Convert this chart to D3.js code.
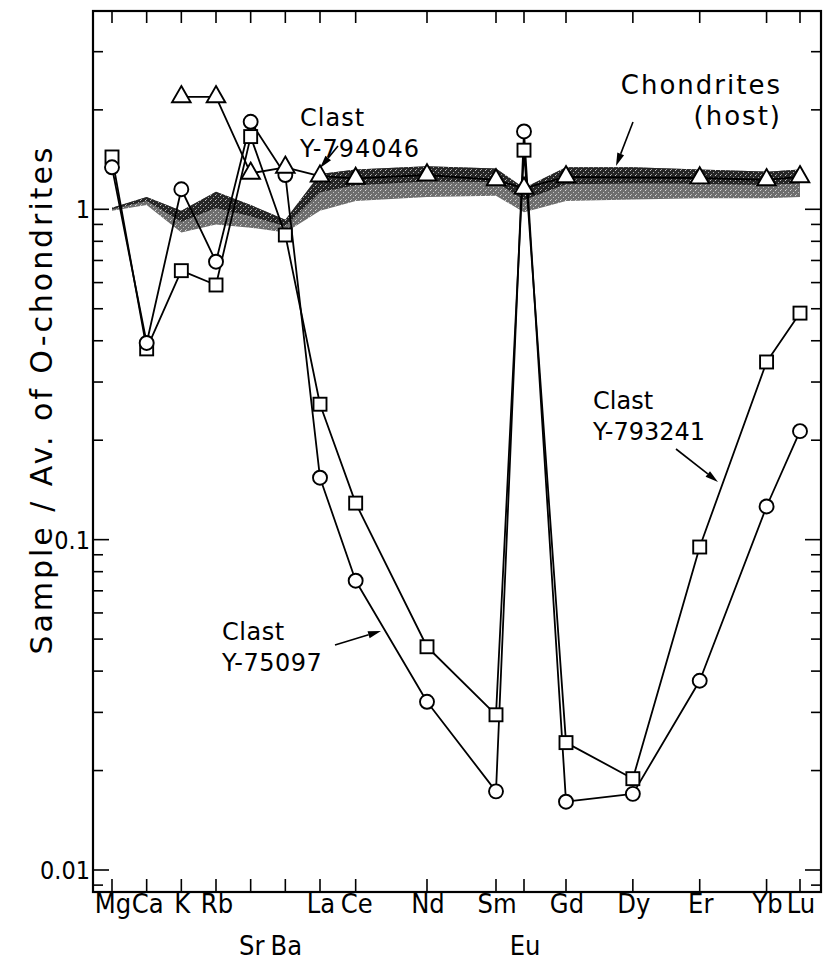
<!DOCTYPE html>
<html>
<head>
<meta charset="utf-8">
<script src="https://cdn.jsdelivr.net/npm/d3@7"></script>
<style>
  html, body { margin: 0; padding: 0; background: #fff; }
  svg { display: block; }
</style>
</head>
<body>
<div id="chart"></div>
<script>
// Axis slots: non-REE elements first, then the REE by atomic number (gaps kept for Pr, Pm, Tb, Ho, Tm)
const axisSlots = ["Mg","Ca","K","Rb","Sr","Ba","La","Ce","Pr","Nd","Pm","Sm","Eu","Gd","Tb","Dy","Ho","Er","Tm","Yb","Lu"];
// Measured elements, in plotting order
const elements = ["Mg","Ca","K","Rb","Sr","Ba","La","Ce","Nd","Sm","Eu","Gd","Dy","Er","Yb","Lu"];
// Labels set on the second line under the axis
const secondRowLabels = ["Sr","Ba","Eu"];

// Sample / average of ordinary chondrites
const clastY793241 = [1.44, 0.378, 0.652, 0.590, 1.66, 0.836, 0.257, 0.129, 0.0474, 0.0295, 1.51, 0.0243, 0.0189, 0.095, 0.345, 0.485];
const clastY75097  = [1.34, 0.394, 1.15, 0.694, 1.84, 1.27, 0.154, 0.0751, 0.0323, 0.0173, 1.72, 0.0161, 0.0170, 0.0374, 0.126, 0.213];
const clastY794046 = [null, null, 2.19, 2.19, 1.285, 1.34, 1.26, 1.24, 1.27, 1.227, 1.158, 1.254, null, 1.244, 1.228, 1.254];

// Range of the host chondrites
const hostUpper = [1.01, 1.09, 0.99, 1.13, 1.03, 0.93, 1.28, 1.32, 1.35, 1.33, 1.16, 1.34, 1.34, 1.32, 1.30, 1.32];
const hostLower = [0.99, 1.03, 0.85, 0.90, 0.88, 0.85, 0.99, 1.06, 1.09, 1.10, 0.98, 1.06, 1.07, 1.08, 1.08, 1.09];

const yTickValues = [1, 0.1, 0.01];
const yTickLabels = ["1", "0.1", "0.01"];

const W = 830, H = 971;
const frame = { left: 93, right: 821, top: 11, bottom: 892 };

const svg = d3.select("#chart").append("svg")
  .attr("width", W).attr("height", H)
  .attr("viewBox", `0 0 ${W} ${H}`);
svg.append("rect").attr("width", W).attr("height", H).attr("fill", "#fff");

// slot index -> pixel; the hand-ruled axis spaces the slots slightly unevenly
const slotX = d3.scaleLinear()
  .domain([0, 6, 9, 11, 12, 13, 20])
  .range([112, 320, 427, 496, 524, 566, 800]);
const x = e => slotX(axisSlots.indexOf(e));
const y = d3.scaleLog().domain([0.01, 1]).range([870, 209.3]);

const FONT = "'DejaVu Sans Condensed', 'DejaVu Sans', sans-serif";

// ---- stipple texture for the host band ----
const defs = svg.append("defs");
const pat = defs.append("pattern").attr("id", "speck")
  .attr("width", 5).attr("height", 5).attr("patternUnits", "userSpaceOnUse");
pat.append("rect").attr("x", 0).attr("y", 0).attr("width", 1).attr("height", 1).attr("fill", "#fff").attr("opacity", 0.75);
pat.append("rect").attr("x", 3).attr("y", 2).attr("width", 1).attr("height", 1).attr("fill", "#fff").attr("opacity", 0.6);
pat.append("rect").attr("x", 1).attr("y", 4).attr("width", 1).attr("height", 1).attr("fill", "#fff").attr("opacity", 0.5);

const hostRows = elements.map((e, i) => ({ e, hi: hostUpper[i], lo: hostLower[i] }));
const bandArea = d3.area()
  .x(d => x(d.e))
  .y0(d => y(d.lo))
  .y1(d => y(d.hi));
const upperHalfArea = d3.area()
  .x(d => x(d.e))
  .y0(d => y(Math.sqrt(d.hi * d.lo)))
  .y1(d => y(d.hi));

const band = svg.append("g");
band.append("path").datum(hostRows).attr("d", bandArea).attr("fill", "#6e6e6e");
band.append("path").datum(hostRows).attr("d", upperHalfArea).attr("fill", "#262626");
band.append("path").datum(hostRows).attr("d", bandArea).attr("fill", "url(#speck)");

// ---- frame and ticks ----
const axes = svg.append("g").attr("stroke", "#000").attr("fill", "none");
axes.append("rect")
  .attr("x", frame.left).attr("y", frame.top)
  .attr("width", frame.right - frame.left).attr("height", frame.bottom - frame.top)
  .attr("stroke-width", 2.2);

// log minor ticks on both vertical sides
const vTop = y.invert(frame.top), vBot = y.invert(frame.bottom);
const yTicksAll = [];
for (let p = -3; p <= 1; p++) {
  for (let k = 1; k <= 9; k++) {
    const v = k * Math.pow(10, p);
    if (v >= vBot && v <= vTop) yTicksAll.push({ v, major: k === 1 });
  }
}
yTicksAll.forEach(t => {
  const len = t.major ? 16 : 10;
  axes.append("line").attr("x1", frame.left).attr("x2", frame.left + len)
    .attr("y1", y(t.v)).attr("y2", y(t.v)).attr("stroke-width", 1.6);
  axes.append("line").attr("x1", frame.right).attr("x2", frame.right - len)
    .attr("y1", y(t.v)).attr("y2", y(t.v)).attr("stroke-width", 1.6);
});

// element ticks on bottom and top
elements.forEach(e => {
  axes.append("line").attr("x1", x(e)).attr("x2", x(e))
    .attr("y1", frame.bottom).attr("y2", frame.bottom - 13).attr("stroke-width", 1.6);
  axes.append("line").attr("x1", x(e)).attr("x2", x(e))
    .attr("y1", frame.top).attr("y2", frame.top + 12).attr("stroke-width", 1.6);
});

// y tick labels
const yLab = svg.append("g").attr("font-family", FONT)
  .attr("font-size", 25).attr("fill", "#000").attr("text-anchor", "end");
yTickValues.forEach((v, i) => {
  yLab.append("text").attr("x", frame.left - 3).attr("y", y(v) + 9).text(yTickLabels[i]);
});

// x labels
const xLab = svg.append("g").attr("font-family", FONT)
  .attr("font-size", 27).attr("fill", "#000").attr("text-anchor", "middle");
elements.forEach(e => {
  const second = secondRowLabels.includes(e);
  xLab.append("text").attr("x", x(e) + 1).attr("y", second ? 955 : 913).text(e);
});

// y axis title
svg.append("text")
  .attr("transform", "translate(52,401) rotate(-90)")
  .attr("text-anchor", "middle")
  .attr("font-family", "'DejaVu Sans', sans-serif")
  .attr("font-size", 30)
  .attr("textLength", 507).attr("lengthAdjust", "spacing")
  .text("Sample / Av. of O-chondrites");

// ---- series ----
function rows(vals) {
  return elements.map((e, i) => ({ e, v: vals[i] })).filter(d => d.v != null);
}
const line = d3.line().x(d => x(d.e)).y(d => y(d.v));

const sq = rows(clastY793241), ci = rows(clastY75097), tr = rows(clastY794046);
const lines = svg.append("g").attr("fill", "none").attr("stroke", "#000").attr("stroke-width", 1.8).attr("stroke-linejoin", "round");
lines.append("path").datum(tr).attr("d", line);
lines.append("path").datum(sq).attr("d", line);
lines.append("path").datum(ci).attr("d", line);

const mk = svg.append("g").attr("fill", "#fff").attr("stroke", "#000").attr("stroke-width", 1.9);
mk.selectAll("rect.sq").data(sq).join("rect")
  .attr("x", d => x(d.e) - 6.5).attr("y", d => y(d.v) - 6.5)
  .attr("width", 13).attr("height", 13);
mk.selectAll("circle.ci").data(ci).join("circle")
  .attr("cx", d => x(d.e)).attr("cy", d => y(d.v)).attr("r", 7);
const tri = d3.symbol().type(d3.symbolTriangle).size(150);
mk.selectAll("path.tr").data(tr).join("path")
  .attr("transform", d => `translate(${x(d.e)},${y(d.v)})`)
  .attr("d", tri);

// ---- annotations ----
const ann = svg.append("g").attr("font-family", "'DejaVu Sans', sans-serif")
  .attr("fill", "#000");
function label(lines2, x0, y0, opts) {
  const o = Object.assign({ anchor: "start", size: 24, spacing: 0.8 }, opts || {});
  lines2.forEach((t, i) => ann.append("text")
    .attr("x", x0).attr("y", y0 + i * 31)
    .attr("text-anchor", o.anchor)
    .attr("font-size", o.size)
    .attr("letter-spacing", o.spacing)
    .text(t));
}
label(["Clast", "Y-794046"], 300, 126, { spacing: 1 });
label(["Chondrites", "(host)"], 782, 94, { anchor: "end", size: 26, spacing: 2.0 });
label(["Clast", "Y-793241"], 593, 409, { spacing: 0 });
label(["Clast", "Y-75097"], 222, 640, { spacing: 0.5 });

function arrow(x1, y1, x2, y2) {
  const ang = Math.atan2(y2 - y1, x2 - x1), L = 13, hw = 3.6;
  const bx = x2 - L * Math.cos(ang), by = y2 - L * Math.sin(ang);
  const g = svg.append("g");
  g.append("line").attr("x1", x1).attr("y1", y1).attr("x2", bx).attr("y2", by)
    .attr("stroke", "#000").attr("stroke-width", 1.6);
  g.append("path").attr("fill", "#000")
    .attr("d", `M${x2},${y2}L${bx + hw * Math.sin(ang)},${by - hw * Math.cos(ang)}L${bx - hw * Math.sin(ang)},${by + hw * Math.cos(ang)}Z`);
}
arrow(338, 146, 320, 168);
arrow(633, 122, 616, 166);
arrow(676, 449, 718, 482);
arrow(335, 645, 381, 631);
</script>
</body>
</html>
